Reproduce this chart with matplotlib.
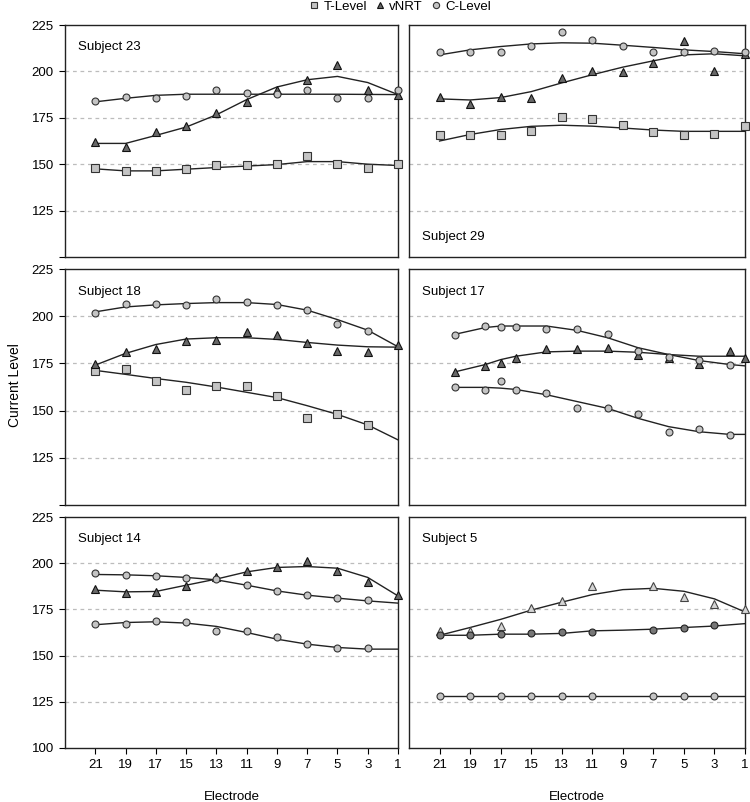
import matplotlib
matplotlib.use("Agg")
import matplotlib.pyplot as plt
from matplotlib.lines import Line2D

plt.rcParams['font.family'] = ['Liberation Sans', 'DejaVu Sans']

# electrodes
el_odd = [21, 19, 17, 15, 13, 11, 9, 7, 5, 3, 1]
el_odd_no1 = [21, 19, 17, 15, 13, 11, 9, 7, 5, 3]
el_s17 = [20, 18, 17, 16, 14, 12, 10, 8, 6, 4, 2]
el_s17_v = [20, 18, 17, 16, 14, 12, 10, 8, 6, 4, 2, 1]
el_s5 = [21, 19, 17, 15, 13, 11, 7, 5, 3]
el_s5_v = [21, 19, 17, 15, 13, 11, 7, 5, 3, 1]

# Subject 23
s23_t = [148, 146.3, 146.3, 147.5, 149.5, 149.3, 150.2, 154.5, 150, 148.2, 150.2]
s23_t_fit = [147.5, 146.4, 146.4, 147.3, 148.2, 149, 149.8, 151.4, 151.4, 150, 149.3]
s23_v = [162, 159.5, 167.5, 170.5, 177.7, 183.6, 190.2, 195.4, 203.6, 189.8, 187.3]
s23_v_fit = [161.2, 161.2, 165.5, 170, 176.6, 184.8, 191.6, 195.5, 197.3, 194, 187.5]
s23_c = [184, 186, 185.7, 187, 190.2, 188.2, 187.9, 190.2, 185.7, 185.4, 190.2]
s23_c_fit = [183.6, 185.5, 187.1, 187.7, 187.7, 187.7, 187.7, 187.7, 187.7, 187.6, 187.5]

# Subject 29
s29_t = [165.7, 165.7, 165.7, 168, 175.4, 174.5, 171, 167.5, 166, 166.4, 170.5]
s29_t_fit = [162.5, 166, 168.7, 170.4, 171, 170.5, 169.5, 168.4, 167.7, 167.7, 167.7]
s29_v = [186.4, 182.3, 186.4, 185.4, 196.4, 200.4, 199.6, 204.6, 216.2, 200, 209.5]
s29_v_fit = [185.2, 184.6, 185.9, 189.1, 193.8, 198.2, 202.3, 205.7, 208.9, 209.5, 208.4]
s29_c = [210.4, 210.7, 210.7, 213.9, 221.4, 216.8, 213.9, 210.7, 210.7, 211, 210.7]
s29_c_fit = [208.9, 211.6, 213.4, 214.8, 215.4, 215.2, 214.1, 212.9, 211.6, 210.7, 209.5]

# Subject 18
s18_t = [171, 172, 165.7, 161.1, 163.2, 163, 157.9, 146, 148.4, 142.6]
s18_t_fit = [171.3, 169.2, 167, 165, 162.5, 159.7, 156.9, 152.6, 148, 142.4, 134.5]
s18_v = [174.6, 181, 182.4, 186.8, 187.3, 191.7, 190, 185.9, 181.5, 180.8, 185]
s18_v_fit = [174.1, 180.3, 185, 187.9, 188.6, 188.6, 187.7, 186.1, 184.7, 183.8, 183.6]
s18_c = [201.9, 206.5, 206.2, 206, 209.3, 207.7, 206, 203.2, 195.8, 192.3]
s18_c_fit = [202.3, 204.9, 206, 206.7, 207.2, 207.2, 206.2, 203.2, 198.2, 192.6, 183.8]

# Subject 17
s17_t = [162.5, 161, 165.8, 161, 159.3, 151.3, 151.6, 148.2, 138.6, 140.4, 137]
s17_t_fit = [162.3, 162.3, 161.9, 161.2, 158.4, 154.8, 151.2, 145.9, 141.5, 138.8, 137.4, 137.4]
s17_v = [170.5, 173.5, 175.3, 177.9, 182.7, 182.7, 182.9, 179.7, 177.9, 174.7, 181.5, 177.9]
s17_v_fit = [170.5, 174.4, 177, 178.8, 181.1, 181.5, 181.5, 180.9, 179.7, 178.8, 178.8, 178.8]
s17_c = [189.9, 195, 194.5, 194.5, 193.2, 193.2, 190.4, 181.5, 178.6, 177, 174.4]
s17_c_fit = [190.4, 194, 194.8, 194.8, 194.8, 192.5, 188.6, 183.3, 179.7, 176.5, 174.4, 173.7]

# Subject 14
s14_t = [167, 167, 168.8, 168.3, 163.4, 163.4, 159.8, 156.2, 153.9, 153.9]
s14_t_fit = [166.7, 167.9, 168.3, 167.6, 165.8, 162.5, 158.9, 156.2, 154.4, 153.5, 153.5]
s14_v = [186.3, 184.1, 184.3, 187.4, 192.6, 195.9, 197.7, 201.1, 195.7, 189.7, 182.9]
s14_v_fit = [185.4, 184.5, 184.7, 188.1, 191.4, 195.3, 197.7, 198.2, 197.3, 192.3, 182.3]
s14_c = [194.6, 193.7, 193, 192.1, 191.4, 188.1, 185, 182.9, 181.3, 180]
s14_c_fit = [193.9, 193.7, 193.2, 192.3, 191, 188.1, 185, 182.7, 181.1, 179.6, 178.4]

# Subject 5
s5_t = [128, 128, 128, 128, 128, 128, 128, 128, 128]
s5_t_fit = [128, 128, 128, 128, 128, 128, 128, 128, 128, 128, 128]
s5_v = [163.4, 163.4, 166, 175.5, 179.5, 187.5, 187.5, 181.8, 177.7, 175.4]
s5_v_fit = [161, 165.2, 169.6, 174.6, 178.9, 183, 185.7, 186.4, 184.8, 180.7, 173.6]
s5_c = [161, 161, 161.6, 162, 163, 163, 163.75, 164.8, 166.4]
s5_c_fit = [161, 161, 161.6, 161.6, 162, 163.4, 163.75, 164.3, 165.2, 166, 167.3]

W, H = 750, 802
fig = plt.figure(figsize=(W / 100, H / 100), dpi=100)


def box(x0, y0, x1, y1):
    return [x0 / W, 1 - y1 / H, (x1 - x0) / W, (y1 - y0) / H]


light = '#c4c4c4'
dark = '#686868'
edge = '#333333'
sq = dict(marker='s', ms=5.5, mfc=light, mec=edge, mew=0.8, ls='none')
tri = dict(marker='^', ms=6, mfc=dark, mec='#111111', mew=0.8, ls='none')
tri_l = dict(marker='^', ms=6, mfc='#d4d4d4', mec='#444444', mew=0.8, ls='none')
circ = dict(marker='o', ms=5, mfc=light, mec=edge, mew=0.8, ls='none')
circ_d = dict(marker='o', ms=5, mfc='#777777', mec='#222222', mew=0.8, ls='none')
fit_kw = dict(color='#222222', lw=1.0)

panels = [
    ('Subject 23', box(65, 25, 398, 257), 'top',
     [(el_odd, s23_t, el_odd, s23_t_fit, sq),
      (el_odd, s23_v, el_odd, s23_v_fit, tri),
      (el_odd, s23_c, el_odd, s23_c_fit, circ)]),
    ('Subject 29', box(409, 25, 745, 257), 'bottom',
     [(el_odd, s29_t, el_odd, s29_t_fit, sq),
      (el_odd, s29_v, el_odd, s29_v_fit, tri),
      (el_odd, s29_c, el_odd, s29_c_fit, circ)]),
    ('Subject 18', box(65, 269, 398, 505), 'top',
     [(el_odd_no1, s18_t, el_odd, s18_t_fit, sq),
      (el_odd, s18_v, el_odd, s18_v_fit, tri),
      (el_odd_no1, s18_c, el_odd, s18_c_fit, circ)]),
    ('Subject 17', box(409, 269, 745, 505), 'top',
     [(el_s17, s17_t, el_s17_v, s17_t_fit, circ),
      (el_s17_v, s17_v, el_s17_v, s17_v_fit, tri),
      (el_s17, s17_c, el_s17_v, s17_c_fit, circ)]),
    ('Subject 14', box(65, 517, 398, 748), 'top',
     [(el_odd_no1, s14_t, el_odd, s14_t_fit, circ),
      (el_odd, s14_v, el_odd, s14_v_fit, tri),
      (el_odd_no1, s14_c, el_odd, s14_c_fit, circ)]),
    ('Subject 5', box(409, 517, 745, 748), 'top',
     [(el_s5, s5_t, el_odd, s5_t_fit, circ),
      (el_s5_v, s5_v, el_odd, s5_v_fit, tri_l),
      (el_s5, s5_c, el_odd, s5_c_fit, circ_d)]),
]

for i, (name, rect, where, series) in enumerate(panels):
    ax = fig.add_axes(rect)
    ax.set_xlim(23, 1)
    ax.set_ylim(100, 225)
    for y in [125, 150, 175, 200]:
        ax.axhline(y, color='#bcbcbc', lw=0.9, ls=(0, (3, 3)), zorder=0)
    for xp, yp, xf, yf, mk in series:
        ax.plot(xf, yf, zorder=2, **fit_kw)
        ax.plot(xp, yp, zorder=3, clip_on=False, **mk)
    for sp in ax.spines.values():
        sp.set_linewidth(1.0)
        sp.set_color('#222222')
    left = (i % 2 == 0)
    bottom = (i >= 4)
    if left:
        ax.set_yticks([100, 125, 150, 175, 200, 225])
        labels = ['100' if bottom else '', '125', '150', '175', '200', '225']
        ax.set_yticklabels(labels)
    else:
        ax.set_yticks([])
    if bottom:
        ax.set_xticks(el_odd)
        ax.set_xticklabels([str(e) for e in el_odd])
        ax.set_xlabel('Electrode', fontsize=9.5, labelpad=14)
    else:
        ax.set_xticks([])
    ax.tick_params(direction='out', length=4, width=0.8, labelsize=9.5, pad=4)
    if where == 'top':
        ax.text(0.04, 0.93, name, transform=ax.transAxes, fontsize=9.5,
                va='top', ha='left')
    else:
        ax.text(0.04, 0.06, name, transform=ax.transAxes, fontsize=9.5,
                va='bottom', ha='left')

fig.text(8 / W, 0.52, 'Current Level', rotation=90, fontsize=10,
         va='center', ha='left')

handles = [Line2D([], [], **dict(sq, ms=5)),
           Line2D([], [], **dict(tri, ms=5)),
           Line2D([], [], **dict(circ, ms=4.5))]
fig.legend(handles, ['T-Level', 'vNRT', 'C-Level'], loc='center',
           bbox_to_anchor=(400 / W, 1 - 7 / H), ncol=3, frameon=False,
           fontsize=9.5, handlelength=0.8, handletextpad=0.3,
           columnspacing=0.6, borderpad=0)

fig.savefig('out.png', dpi=100)
